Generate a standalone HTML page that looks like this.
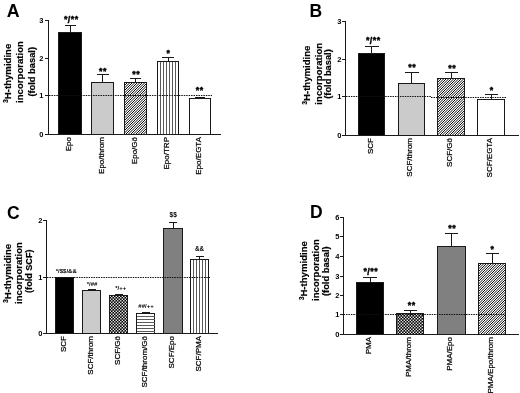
<!DOCTYPE html>
<html><head><meta charset="utf-8"><title>Figure</title>
<style>
html,body{margin:0;padding:0;background:#fff;overflow:hidden;}
svg{display:block;font-family:"Liberation Sans", sans-serif;}
text{fill:#000;}
</style></head>
<body>
<svg width="520" height="393" viewBox="0 0 520 393">

<defs>
<pattern id="diag" width="5" height="5" patternUnits="userSpaceOnUse">
  <rect width="5" height="5" fill="#fff"/><path d="M-8.500 6L-1.500 -1M-6.000 6L1.000 -1M-3.500 6L3.500 -1M-1.000 6L6.000 -1M1.500 6L8.500 -1M4.000 6L11.000 -1M6.500 6L13.500 -1" stroke="#000" stroke-width="0.95" fill="none"/>
</pattern>
<pattern id="check" width="3" height="3" patternUnits="userSpaceOnUse">
  <rect width="3" height="3" fill="#000"/><rect x="0.1" y="0.1" width="1.35" height="1.35" fill="#fff"/><rect x="1.6" y="1.6" width="1.35" height="1.35" fill="#fff"/>
</pattern>
<filter id="bl" x="-5%" y="-5%" width="110%" height="110%"><feGaussianBlur stdDeviation="0.3"/></filter>
</defs>

<rect width="520" height="393" fill="#fff"/>
<g shape-rendering="crispEdges">
<rect x="58.5" y="32.5" width="23.0" height="102.0" fill="#000" stroke="#1a1a1a" stroke-width="1"/>
<path d="M70.0 32.5V25.5M64.5 25.5H75.5" stroke="#1a1a1a" stroke-width="1" fill="none"/>
<rect x="91.5" y="82.5" width="22.0" height="52.0" fill="#cbcbcb" stroke="#1a1a1a" stroke-width="1"/>
<path d="M102.5 82.5V74.5M96.5 74.5H108.5" stroke="#1a1a1a" stroke-width="1" fill="none"/>
<rect x="124.5" y="82.5" width="22.0" height="52.0" fill="url(#diag)" stroke="#1a1a1a" stroke-width="1"/>
<path d="M135.5 82.5V78.5M130.0 78.5H141.0" stroke="#1a1a1a" stroke-width="1" fill="none"/>
<rect x="157.5" y="61.5" width="21.0" height="73.0" fill="#fff" stroke="#1a1a1a" stroke-width="1"/>
<path d="M160.50 61.5V134.5M163.50 61.5V134.5M166.50 61.5V134.5M169.50 61.5V134.5M172.50 61.5V134.5M175.50 61.5V134.5" stroke="#5a5a5a" stroke-width="1" fill="none"/>
<path d="M168.0 61.5V57.5M162.0 57.5H174.0" stroke="#1a1a1a" stroke-width="1" fill="none"/>
<rect x="189.5" y="98.5" width="21.0" height="36.0" fill="#fff" stroke="#1a1a1a" stroke-width="1"/>
<path d="M200.0 98.5V97.5M195.0 97.5H205.0" stroke="#1a1a1a" stroke-width="1" fill="none"/>
<path d="M48.5 20.5V134.5H221" stroke="#1a1a1a" stroke-width="1" fill="none"/>
<path d="M45.0 20.5H48.5" stroke="#1a1a1a" stroke-width="1"/>
<path d="M45.0 58.5H48.5" stroke="#1a1a1a" stroke-width="1"/>
<path d="M45.0 95.5H48.5" stroke="#1a1a1a" stroke-width="1"/>
<path d="M45.0 134.5H48.5" stroke="#1a1a1a" stroke-width="1"/>
<rect x="358.5" y="53.5" width="26.0" height="82.0" fill="#000" stroke="#1a1a1a" stroke-width="1"/>
<path d="M371.5 53.5V46.5M364.5 46.5H378.5" stroke="#1a1a1a" stroke-width="1" fill="none"/>
<rect x="398.5" y="83.5" width="26.0" height="52.0" fill="#cbcbcb" stroke="#1a1a1a" stroke-width="1"/>
<path d="M411.5 83.5V72.5M404.5 72.5H418.5" stroke="#1a1a1a" stroke-width="1" fill="none"/>
<rect x="437.5" y="78.5" width="27.0" height="57.0" fill="url(#diag)" stroke="#1a1a1a" stroke-width="1"/>
<path d="M451.0 78.5V72.5M444.5 72.5H457.5" stroke="#1a1a1a" stroke-width="1" fill="none"/>
<rect x="477.5" y="99.5" width="27.0" height="36.0" fill="#fff" stroke="#1a1a1a" stroke-width="1"/>
<path d="M491.0 99.5V94.5M484.5 94.5H497.5" stroke="#1a1a1a" stroke-width="1" fill="none"/>
<path d="M345.5 21.5V135.5H518.5" stroke="#1a1a1a" stroke-width="1" fill="none"/>
<path d="M342.0 21.5H345.5" stroke="#1a1a1a" stroke-width="1"/>
<path d="M342.0 59.5H345.5" stroke="#1a1a1a" stroke-width="1"/>
<path d="M342.0 96.5H345.5" stroke="#1a1a1a" stroke-width="1"/>
<path d="M342.0 135.5H345.5" stroke="#1a1a1a" stroke-width="1"/>
<rect x="55.5" y="277.5" width="18.0" height="56.0" fill="#000" stroke="#1a1a1a" stroke-width="1"/>
<rect x="82.5" y="290.5" width="18.0" height="43.0" fill="#cbcbcb" stroke="#1a1a1a" stroke-width="1"/>
<path d="M91.5 290.5V289.5M87.5 289.5H95.5" stroke="#1a1a1a" stroke-width="1" fill="none"/>
<rect x="109.5" y="295.5" width="18.0" height="38.0" fill="url(#check)" stroke="#1a1a1a" stroke-width="1"/>
<path d="M118.5 295.5V294.5M114.5 294.5H122.5" stroke="#1a1a1a" stroke-width="1" fill="none"/>
<rect x="136.5" y="313.5" width="18.0" height="20.0" fill="#fff" stroke="#1a1a1a" stroke-width="1"/>
<path d="M136.5 316.50H154.5M136.5 319.50H154.5M136.5 322.50H154.5M136.5 325.50H154.5M136.5 328.50H154.5M136.5 331.50H154.5" stroke="#5a5a5a" stroke-width="1" fill="none"/>
<path d="M145.5 313.5V312.5M141.5 312.5H149.5" stroke="#1a1a1a" stroke-width="1" fill="none"/>
<rect x="163.5" y="228.5" width="19.0" height="105.0" fill="#808080" stroke="#1a1a1a" stroke-width="1"/>
<path d="M173.0 228.5V222.5M169.0 222.5H177.0" stroke="#1a1a1a" stroke-width="1" fill="none"/>
<rect x="190.5" y="259.5" width="18.0" height="74.0" fill="#fff" stroke="#1a1a1a" stroke-width="1"/>
<path d="M193.50 259.5V333.5M196.50 259.5V333.5M199.50 259.5V333.5M202.50 259.5V333.5M205.50 259.5V333.5" stroke="#5a5a5a" stroke-width="1" fill="none"/>
<path d="M199.5 259.5V256.5M195.5 256.5H203.5" stroke="#1a1a1a" stroke-width="1" fill="none"/>
<path d="M46.5 220.5V333.5H217.5" stroke="#1a1a1a" stroke-width="1" fill="none"/>
<path d="M43.0 220.5H46.5" stroke="#1a1a1a" stroke-width="1"/>
<path d="M43.0 277.5H46.5" stroke="#1a1a1a" stroke-width="1"/>
<path d="M43.0 333.5H46.5" stroke="#1a1a1a" stroke-width="1"/>
<rect x="356.5" y="282.5" width="27.0" height="52.0" fill="#000" stroke="#1a1a1a" stroke-width="1"/>
<path d="M370.0 282.5V277.5M363.0 277.5H377.0" stroke="#1a1a1a" stroke-width="1" fill="none"/>
<rect x="396.5" y="313.5" width="27.0" height="21.0" fill="url(#check)" stroke="#1a1a1a" stroke-width="1"/>
<path d="M410.0 313.5V310.5M403.5 310.5H416.5" stroke="#1a1a1a" stroke-width="1" fill="none"/>
<rect x="437.5" y="246.5" width="28.0" height="88.0" fill="#808080" stroke="#1a1a1a" stroke-width="1"/>
<path d="M451.5 246.5V233.5M445.0 233.5H458.0" stroke="#1a1a1a" stroke-width="1" fill="none"/>
<rect x="478.5" y="263.5" width="27.0" height="71.0" fill="url(#diag)" stroke="#1a1a1a" stroke-width="1"/>
<path d="M492.0 263.5V253.5M485.5 253.5H498.5" stroke="#1a1a1a" stroke-width="1" fill="none"/>
<path d="M343.5 217.5V334.5H518.5" stroke="#1a1a1a" stroke-width="1" fill="none"/>
<path d="M340.0 217.5H343.5" stroke="#1a1a1a" stroke-width="1"/>
<path d="M340.0 236.5H343.5" stroke="#1a1a1a" stroke-width="1"/>
<path d="M340.0 256.5H343.5" stroke="#1a1a1a" stroke-width="1"/>
<path d="M340.0 276.5H343.5" stroke="#1a1a1a" stroke-width="1"/>
<path d="M340.0 295.5H343.5" stroke="#1a1a1a" stroke-width="1"/>
<path d="M340.0 314.5H343.5" stroke="#1a1a1a" stroke-width="1"/>
<path d="M340.0 334.5H343.5" stroke="#1a1a1a" stroke-width="1"/>
</g>
<g>
<path d="M49 95.5H212" stroke="#111" stroke-width="1" stroke-dasharray="1.5 0.95" fill="none"/>
<path d="M346 96.5H431" stroke="#111" stroke-width="1" stroke-dasharray="1.5 0.95" fill="none"/>
<path d="M431 97.5H507" stroke="#111" stroke-width="1" stroke-dasharray="1.5 0.95" fill="none"/>
<path d="M47 277.5H210" stroke="#111" stroke-width="1" stroke-dasharray="1.5 0.95" fill="none"/>
<path d="M343.5 314.5H506" stroke="#111" stroke-width="1" stroke-dasharray="1.5 0.95" fill="none"/>
</g>
<g filter="url(#bl)">
<text x="6.8" y="16.9" font-size="17.8" font-weight="bold" text-anchor="start" >A</text>
<text x="10.8" y="73.2" font-size="9.6" font-weight="bold" text-anchor="middle" transform="rotate(-90 10.8 73.2)" stroke="#000" stroke-width="0.2"><tspan font-size="6.3" dy="-3">3</tspan><tspan dy="3">H-thymidine</tspan></text>
<text x="22.8" y="72" font-size="9.6" font-weight="bold" text-anchor="middle" transform="rotate(-90 22.8 72)" stroke="#000" stroke-width="0.2">incorporation</text>
<text x="34.7" y="71.8" font-size="9.3" font-weight="bold" text-anchor="middle" transform="rotate(-90 34.7 71.8)" stroke="#000" stroke-width="0.2">(fold basal)</text>
<text x="43.3" y="22.7" font-size="7.5" font-weight="bold" text-anchor="end" >3</text>
<text x="43.3" y="60.7" font-size="7.5" font-weight="bold" text-anchor="end" >2</text>
<text x="43.3" y="97.7" font-size="7.5" font-weight="bold" text-anchor="end" >1</text>
<text x="43.3" y="136.7" font-size="7.5" font-weight="bold" text-anchor="end" >0</text>
<text x="70.97999999999999" y="137" font-size="8" text-anchor="end" transform="rotate(-90 70.97999999999999 137)" stroke="#000" stroke-width="0.22">Epo</text>
<text x="103.97999999999999" y="137" font-size="8" text-anchor="end" transform="rotate(-90 103.97999999999999 137)" stroke="#000" stroke-width="0.22">Epo/throm</text>
<text x="136.98" y="137" font-size="8" text-anchor="end" transform="rotate(-90 136.98 137)" stroke="#000" stroke-width="0.22">Epo/G&#246;</text>
<text x="169.48" y="137" font-size="8" text-anchor="end" transform="rotate(-90 169.48 137)" stroke="#000" stroke-width="0.22">Epo/TRP</text>
<text x="201.48" y="137" font-size="8" text-anchor="end" transform="rotate(-90 201.48 137)" stroke="#000" stroke-width="0.22">Epo/EGTA</text>
<text x="71.25" y="23.4" font-size="8.8" font-weight="bold" text-anchor="middle" letter-spacing="0.5" stroke="#000" stroke-width="0.45" stroke-linejoin="round"><tspan dy="-1.3">*</tspan><tspan dy="1.3">/</tspan><tspan dy="-1.3">**</tspan></text>
<text x="103.05" y="73.6" font-size="8.8" font-weight="bold" text-anchor="middle" letter-spacing="0.5" stroke="#000" stroke-width="0.45" stroke-linejoin="round">**</text>
<text x="136.25" y="76.89999999999999" font-size="8.8" font-weight="bold" text-anchor="middle" letter-spacing="0.5" stroke="#000" stroke-width="0.45" stroke-linejoin="round">**</text>
<text x="168.55" y="55.9" font-size="8.8" font-weight="bold" text-anchor="middle" letter-spacing="0.5" stroke="#000" stroke-width="0.45" stroke-linejoin="round">*</text>
<text x="199.75" y="93.39999999999999" font-size="8.8" font-weight="bold" text-anchor="middle" letter-spacing="0.5" stroke="#000" stroke-width="0.45" stroke-linejoin="round">**</text>
<text x="309.6" y="17.1" font-size="17.5" font-weight="bold" text-anchor="start" >B</text>
<text x="310.3" y="75" font-size="9.6" font-weight="bold" text-anchor="middle" transform="rotate(-90 310.3 75)" stroke="#000" stroke-width="0.2"><tspan font-size="6.3" dy="-3">3</tspan><tspan dy="3">H-thymidine</tspan></text>
<text x="321.6" y="73.7" font-size="9.6" font-weight="bold" text-anchor="middle" transform="rotate(-90 321.6 73.7)" stroke="#000" stroke-width="0.2">incorporation</text>
<text x="331.0" y="74" font-size="9.3" font-weight="bold" text-anchor="middle" transform="rotate(-90 331.0 74)" stroke="#000" stroke-width="0.2">(fold basal)</text>
<text x="341.3" y="23.7" font-size="7.5" font-weight="bold" text-anchor="end" >3</text>
<text x="341.3" y="61.7" font-size="7.5" font-weight="bold" text-anchor="end" >2</text>
<text x="341.3" y="98.7" font-size="7.5" font-weight="bold" text-anchor="end" >1</text>
<text x="341.3" y="137.7" font-size="7.5" font-weight="bold" text-anchor="end" >0</text>
<text x="373.48" y="138" font-size="8" text-anchor="end" transform="rotate(-90 373.48 138)" stroke="#000" stroke-width="0.22">SCF</text>
<text x="412.48" y="138" font-size="8" text-anchor="end" transform="rotate(-90 412.48 138)" stroke="#000" stroke-width="0.22">SCF/throm</text>
<text x="452.48" y="138" font-size="8" text-anchor="end" transform="rotate(-90 452.48 138)" stroke="#000" stroke-width="0.22">SCF/G&#246;</text>
<text x="492.48" y="138" font-size="8" text-anchor="end" transform="rotate(-90 492.48 138)" stroke="#000" stroke-width="0.22">SCF/EGTA</text>
<text x="373.25" y="43.9" font-size="8.8" font-weight="bold" text-anchor="middle" letter-spacing="0.5" stroke="#000" stroke-width="0.45" stroke-linejoin="round"><tspan dy="-1.3">*</tspan><tspan dy="1.3">/</tspan><tspan dy="-1.3">**</tspan></text>
<text x="412.25" y="69.6" font-size="8.8" font-weight="bold" text-anchor="middle" letter-spacing="0.5" stroke="#000" stroke-width="0.45" stroke-linejoin="round">**</text>
<text x="452.25" y="70.6" font-size="8.8" font-weight="bold" text-anchor="middle" letter-spacing="0.5" stroke="#000" stroke-width="0.45" stroke-linejoin="round">**</text>
<text x="491.75" y="93.1" font-size="8.8" font-weight="bold" text-anchor="middle" letter-spacing="0.5" stroke="#000" stroke-width="0.45" stroke-linejoin="round">*</text>
<text x="7" y="219" font-size="17.5" font-weight="bold" text-anchor="start" >C</text>
<text x="11.0" y="273.3" font-size="9.6" font-weight="bold" text-anchor="middle" transform="rotate(-90 11.0 273.3)" stroke="#000" stroke-width="0.2"><tspan font-size="6.3" dy="-3">3</tspan><tspan dy="3">H-thymidine</tspan></text>
<text x="22.2" y="273" font-size="9.6" font-weight="bold" text-anchor="middle" transform="rotate(-90 22.2 273)" stroke="#000" stroke-width="0.2">incorporation</text>
<text x="32.4" y="271.2" font-size="9.1" font-weight="bold" text-anchor="middle" transform="rotate(-90 32.4 271.2)" stroke="#000" stroke-width="0.2">(fold SCF)</text>
<text x="42.3" y="222.7" font-size="7.5" font-weight="bold" text-anchor="end" >2</text>
<text x="42.3" y="279.7" font-size="7.5" font-weight="bold" text-anchor="end" >1</text>
<text x="42.3" y="335.7" font-size="7.5" font-weight="bold" text-anchor="end" >0</text>
<text x="66.17999999999999" y="336" font-size="8" text-anchor="end" transform="rotate(-90 66.17999999999999 336)" stroke="#000" stroke-width="0.22">SCF</text>
<text x="93.07999999999998" y="336" font-size="8" text-anchor="end" transform="rotate(-90 93.07999999999998 336)" stroke="#000" stroke-width="0.22">SCF/throm</text>
<text x="120.17999999999999" y="336" font-size="8" text-anchor="end" transform="rotate(-90 120.17999999999999 336)" stroke="#000" stroke-width="0.22">SCF/G&#246;</text>
<text x="146.98" y="336" font-size="8" text-anchor="end" transform="rotate(-90 146.98 336)" stroke="#000" stroke-width="0.22">SCF/throm/G&#246;</text>
<text x="174.17999999999998" y="336" font-size="8" text-anchor="end" transform="rotate(-90 174.17999999999998 336)" stroke="#000" stroke-width="0.22">SCF/Epo</text>
<text x="200.98" y="336" font-size="8" text-anchor="end" transform="rotate(-90 200.98 336)" stroke="#000" stroke-width="0.22">SCF/PMA</text>
<text x="66.3" y="273.4" font-size="6" font-weight="bold" text-anchor="middle" >*/$$/&amp;&amp;</text>
<text x="92" y="286" font-size="6" font-weight="bold" text-anchor="middle" >*/##</text>
<text x="120.8" y="290" font-size="6" font-weight="bold" text-anchor="middle" >*/++</text>
<text x="146" y="308.3" font-size="6" font-weight="bold" text-anchor="middle" >##/++</text>
<text x="173.2" y="217.3" font-size="6.5" font-weight="bold" text-anchor="middle" >$$</text>
<text x="199.5" y="250.6" font-size="6.3" font-weight="bold" text-anchor="middle" >&amp;&amp;</text>
<text x="310" y="218.3" font-size="17.5" font-weight="bold" text-anchor="start" >D</text>
<text x="306.9" y="270.6" font-size="9.6" font-weight="bold" text-anchor="middle" transform="rotate(-90 306.9 270.6)" stroke="#000" stroke-width="0.2"><tspan font-size="6.3" dy="-3">3</tspan><tspan dy="3">H-thymidine</tspan></text>
<text x="318.6" y="270" font-size="9.6" font-weight="bold" text-anchor="middle" transform="rotate(-90 318.6 270)" stroke="#000" stroke-width="0.2">incorporation</text>
<text x="329.3" y="271.2" font-size="9.3" font-weight="bold" text-anchor="middle" transform="rotate(-90 329.3 271.2)" stroke="#000" stroke-width="0.2">(fold basal)</text>
<text x="339.3" y="219.7" font-size="7.5" font-weight="bold" text-anchor="end" >6</text>
<text x="339.3" y="238.7" font-size="7.5" font-weight="bold" text-anchor="end" >5</text>
<text x="339.3" y="258.7" font-size="7.5" font-weight="bold" text-anchor="end" >4</text>
<text x="339.3" y="278.7" font-size="7.5" font-weight="bold" text-anchor="end" >3</text>
<text x="339.3" y="297.7" font-size="7.5" font-weight="bold" text-anchor="end" >2</text>
<text x="339.3" y="316.7" font-size="7.5" font-weight="bold" text-anchor="end" >1</text>
<text x="339.3" y="336.7" font-size="7.5" font-weight="bold" text-anchor="end" >0</text>
<text x="371.48" y="337" font-size="8" text-anchor="end" transform="rotate(-90 371.48 337)" stroke="#000" stroke-width="0.22">PMA</text>
<text x="411.48" y="337" font-size="8" text-anchor="end" transform="rotate(-90 411.48 337)" stroke="#000" stroke-width="0.22">PMA/throm</text>
<text x="452.48" y="337" font-size="8" text-anchor="end" transform="rotate(-90 452.48 337)" stroke="#000" stroke-width="0.22">PMA/Epo</text>
<text x="493.18" y="337" font-size="8" text-anchor="end" transform="rotate(-90 493.18 337)" stroke="#000" stroke-width="0.22">PMA/Epo/throm</text>
<text x="370.75" y="275.2" font-size="8.8" font-weight="bold" text-anchor="middle" letter-spacing="0.5" stroke="#000" stroke-width="0.45" stroke-linejoin="round"><tspan dy="-1.3">*</tspan><tspan dy="1.3">/</tspan><tspan dy="-1.3">**</tspan></text>
<text x="411.75" y="308.40000000000003" font-size="8.8" font-weight="bold" text-anchor="middle" letter-spacing="0.5" stroke="#000" stroke-width="0.45" stroke-linejoin="round">**</text>
<text x="452.25" y="231.4" font-size="8.8" font-weight="bold" text-anchor="middle" letter-spacing="0.5" stroke="#000" stroke-width="0.45" stroke-linejoin="round">**</text>
<text x="492.45" y="252.1" font-size="8.8" font-weight="bold" text-anchor="middle" letter-spacing="0.5" stroke="#000" stroke-width="0.45" stroke-linejoin="round">*</text>
</g>
</svg>
</body></html>
